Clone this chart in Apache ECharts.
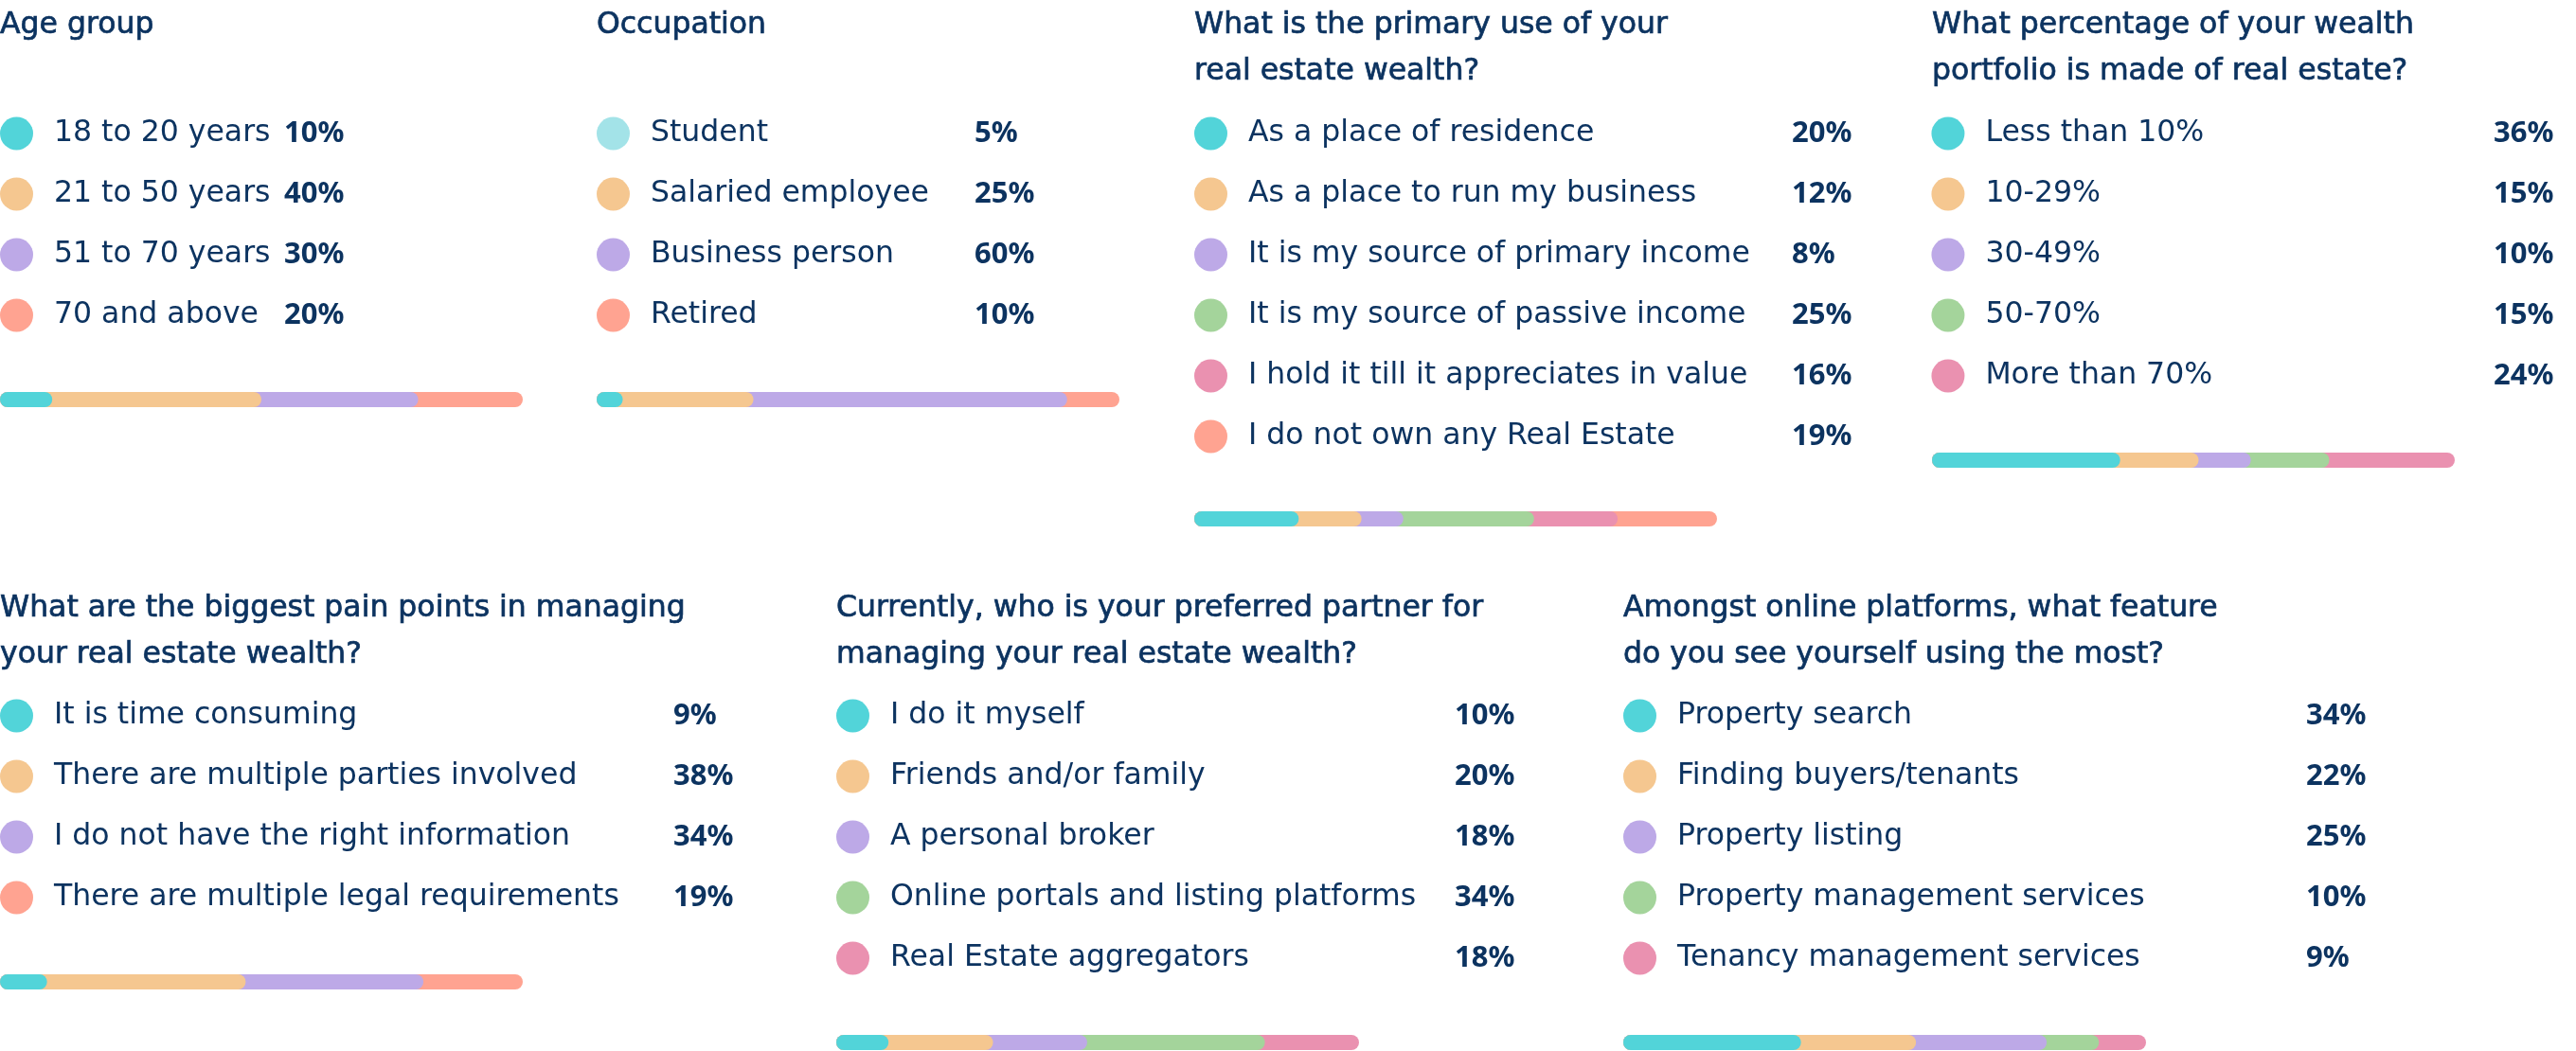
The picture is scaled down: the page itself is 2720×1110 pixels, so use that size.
<!DOCTYPE html>
<html lang="en">
<head>
  <meta charset="utf-8">
  <title>Real estate wealth survey</title>
  <script type="text/javascript" src="https://cdn.jsdelivr.net/npm/echarts@6/dist/echarts.min.js"></script>
  <style type="text/css">
    * {
      margin: 0;
      padding: 0;
    }
    html, body, #survey {
      width: 100%;
      height: 100%;
      overflow: hidden;
      background: #fff;
    }
  </style>
</head>
<body>
  <div id="survey"></div>
  <script type="text/javascript">
    // survey answers, in percent
    var ageLabels = ['18 to 20 years', '21 to 50 years', '51 to 70 years', '70 and above'];
    var ageValues = [10, 40, 30, 20];

    var occupationLabels = ['Student', 'Salaried employee', 'Business person', 'Retired'];
    var occupationValues = [5, 25, 60, 10];

    var useLabels = ['As a place of residence', 'As a place to run my business', 'It is my source of primary income',
      'It is my source of passive income', 'I hold it till it appreciates in value', 'I do not own any Real Estate'];
    var useValues = [20, 12, 8, 25, 16, 19];

    var shareLabels = ['Less than 10%', '10-29%', '30-49%', '50-70%', 'More than 70%'];
    var shareValues = [36, 15, 10, 15, 24];

    var painLabels = ['It is time consuming', 'There are multiple parties involved',
      'I do not have the right information', 'There are multiple legal requirements'];
    var painValues = [9, 38, 34, 19];

    var partnerLabels = ['I do it myself', 'Friends and/or family', 'A personal broker',
      'Online portals and listing platforms', 'Real Estate aggregators'];
    var partnerValues = [10, 20, 18, 34, 18];

    var featureLabels = ['Property search', 'Finding buyers/tenants', 'Property listing',
      'Property management services', 'Tenancy management services'];
    var featureValues = [34, 22, 25, 10, 9];

    var INK = '#0C3360';
    var TEXT_FONT = '"DejaVu Sans", sans-serif';
    var NUM_FONT = '"Noto Sans", sans-serif';
    var TEAL = '#52D4D9', PEACH = '#F5C790', LILAC = '#BDA9E7', GREEN = '#A4D49B',
        PINK = '#EA91B0', SALMON = '#FFA391', PALE = '#A3E3E8';

    // layout of each block: left edge, title top, first row centre, value column, bar centre
    var panels = [
      { title: 'Age group', labels: ageLabels, values: ageValues,
        colors: [TEAL, PEACH, LILAC, SALMON],
        left: 0, titleTop: 2, rowY: 141, valueX: 300, barY: 422 },
      { title: 'Occupation', labels: occupationLabels, values: occupationValues,
        colors: [TEAL, PEACH, LILAC, SALMON], dots: [PALE, PEACH, LILAC, SALMON],
        left: 630, titleTop: 2, rowY: 141, valueX: 1029, barY: 422 },
      { title: 'What is the primary use of your\nreal estate wealth?', labels: useLabels, values: useValues,
        colors: [TEAL, PEACH, LILAC, GREEN, PINK, SALMON],
        left: 1261, titleTop: 2, rowY: 141, valueX: 1892, barY: 548 },
      { title: 'What percentage of your wealth\nportfolio is made of real estate?', labels: shareLabels, values: shareValues,
        colors: [TEAL, PEACH, LILAC, GREEN, PINK],
        left: 2040, titleTop: 2, rowY: 141, valueX: 2653, barY: 486 },
      { title: 'What are the biggest pain points in managing\nyour real estate wealth?', labels: painLabels, values: painValues,
        colors: [TEAL, PEACH, LILAC, SALMON],
        left: 0, titleTop: 618, rowY: 756, valueX: 711, barY: 1037 },
      { title: 'Currently, who is your preferred partner for\nmanaging your real estate wealth?', labels: partnerLabels, values: partnerValues,
        colors: [TEAL, PEACH, LILAC, GREEN, PINK],
        left: 883, titleTop: 618, rowY: 756, valueX: 1536, barY: 1101 },
      { title: 'Amongst online platforms, what feature\ndo you see yourself using the most?', labels: featureLabels, values: featureValues,
        colors: [TEAL, PEACH, LILAC, GREEN, PINK],
        left: 1714, titleTop: 618, rowY: 756, valueX: 2435, barY: 1101 }
    ];

    var ROW = 64, DOT = 35, BAR_W = 552, BAR_H = 16, FS = 31.5;

    var option = {
      animation: false,
      backgroundColor: '#fff',
      textStyle: { fontFamily: TEXT_FONT },
      title: [],
      grid: [],
      xAxis: [],
      yAxis: [],
      series: []
    };

    panels.forEach(function (p) {
      // titles are a touch heavier than the answers
      option.title.push({
        text: p.title,
        left: p.left,
        top: p.titleTop,
        padding: 0,
        textStyle: {
          color: INK, fontFamily: TEXT_FONT, fontSize: FS, fontWeight: 'normal', lineHeight: 49,
          textBorderColor: INK, textBorderWidth: 0.7
        }
      });

      // list of answers: x axis in pixels, one category per row
      var listW = p.valueX - p.left + 90;
      var gi = option.grid.length;
      option.grid.push({ left: p.left, top: p.rowY - ROW / 2, width: listW, height: ROW * p.labels.length });
      option.xAxis.push({ type: 'value', gridIndex: gi, min: 0, max: listW, show: false });
      option.yAxis.push({ type: 'category', gridIndex: gi, data: p.labels, inverse: true, show: false });

      var dotColors = p.dots || p.colors;
      option.series.push({
        type: 'scatter',
        xAxisIndex: gi, yAxisIndex: gi,
        symbol: 'circle',
        symbolSize: DOT,
        silent: true,
        itemStyle: { opacity: 1 },
        data: p.labels.map(function (name, i) {
          return { value: [DOT / 2, name], itemStyle: { color: dotColors[i], opacity: 1 } };
        }),
        label: {
          show: true,
          position: 'right',
          distance: 22,
          color: INK,
          fontFamily: TEXT_FONT,
          fontSize: FS,
          fontWeight: 'normal',
          formatter: function (d) { return d.value[1]; }
        }
      });
      // percentages: invisible points in the value column, label carries the number
      option.series.push({
        type: 'scatter',
        xAxisIndex: gi, yAxisIndex: gi,
        symbolSize: 0,
        silent: true,
        itemStyle: { opacity: 1 },
        data: p.values.map(function (v, i) {
          return { value: [p.valueX - p.left, p.labels[i]], pct: v };
        }),
        label: {
          show: true,
          position: 'right',
          distance: 0,
          color: INK,
          fontFamily: NUM_FONT,
          fontSize: 31,
          fontWeight: 'bold',
          formatter: function (d) { return d.data.pct + '%'; }
        }
      });

      // stacked strip: cumulative bars overlaid, earlier segments on top
      var bi = option.grid.length;
      option.grid.push({ left: p.left, top: p.barY - BAR_H / 2, width: BAR_W, height: BAR_H });
      option.xAxis.push({ type: 'value', gridIndex: bi, min: 0, max: 100, show: false });
      option.yAxis.push({ type: 'category', gridIndex: bi, data: ['all'], show: false });
      var sum = 0;
      p.values.forEach(function (v, i) {
        sum += v;
        option.series.push({
          type: 'bar',
          xAxisIndex: bi, yAxisIndex: bi,
          barWidth: BAR_H,
          barGap: '-100%',
          silent: true,
          z: 2 + p.values.length - i,
          itemStyle: { color: p.colors[i], borderRadius: BAR_H / 2 },
          data: [sum]
        });
      });
    });

    var chart = echarts.init(document.getElementById('survey'));
    chart.setOption(option);
  </script>
</body>
</html>
